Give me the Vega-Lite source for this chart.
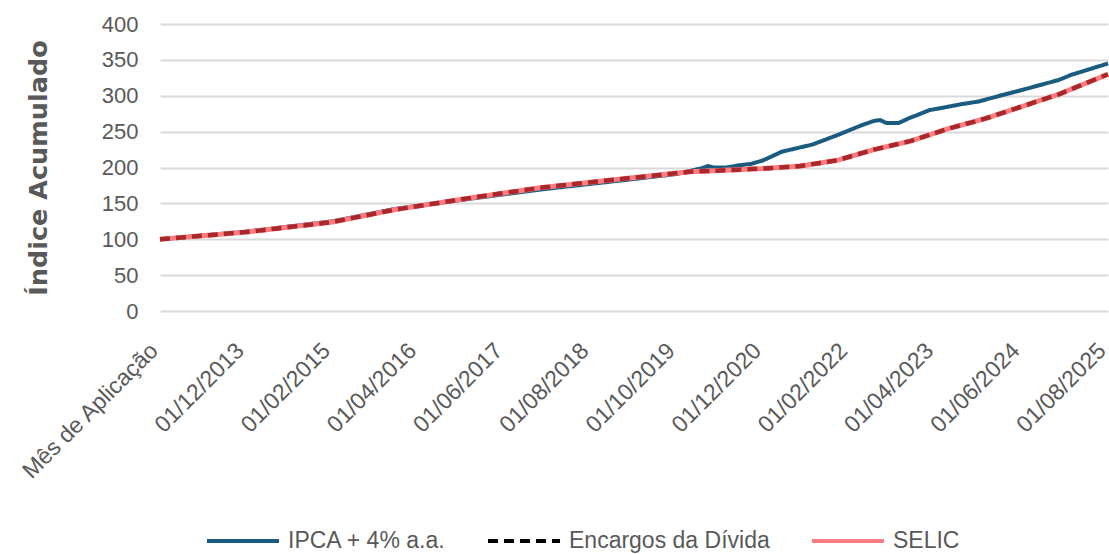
{
"$schema": "https://vega.github.io/schema/vega-lite/v6.json",
"width": 948,
"height": 287,
"autosize": "none",
"padding": {"left": 160, "top": 24, "right": 1, "bottom": 243},
"background": "white",
"config": {"font": "Liberation Sans", "view": {"stroke": null}},
"data": {"values": [
{"m":"Mês de Aplicação","i":100,"e":100,"s":100},
{"m":"01/11/2012","i":100.8,"e":100.7,"s":100.7},
{"m":"01/12/2012","i":101.5,"e":101.4,"s":101.4},
{"m":"01/01/2013","i":102.3,"e":102.1,"s":102.1},
{"m":"01/02/2013","i":103.0,"e":102.9,"s":102.9},
{"m":"01/03/2013","i":103.8,"e":103.6,"s":103.6},
{"m":"01/04/2013","i":104.5,"e":104.3,"s":104.3},
{"m":"01/05/2013","i":105.3,"e":105.0,"s":105.0},
{"m":"01/06/2013","i":106.0,"e":105.7,"s":105.7},
{"m":"01/07/2013","i":106.8,"e":106.4,"s":106.4},
{"m":"01/08/2013","i":107.5,"e":107.1,"s":107.1},
{"m":"01/09/2013","i":108.3,"e":107.9,"s":107.9},
{"m":"01/10/2013","i":109.0,"e":108.6,"s":108.6},
{"m":"01/11/2013","i":109.8,"e":109.3,"s":109.3},
{"m":"01/12/2013","i":110.5,"e":110.0,"s":110.0},
{"m":"01/01/2014","i":111.5,"e":111,"s":111},
{"m":"01/02/2014","i":112.6,"e":112,"s":112},
{"m":"01/03/2014","i":113.6,"e":113,"s":113},
{"m":"01/04/2014","i":114.6,"e":114,"s":114},
{"m":"01/05/2014","i":115.7,"e":115,"s":115},
{"m":"01/06/2014","i":116.7,"e":116,"s":116},
{"m":"01/07/2014","i":117.8,"e":117,"s":117},
{"m":"01/08/2014","i":118.8,"e":118,"s":118},
{"m":"01/09/2014","i":119.8,"e":119,"s":119},
{"m":"01/10/2014","i":120.9,"e":120,"s":120},
{"m":"01/11/2014","i":121.9,"e":121,"s":121},
{"m":"01/12/2014","i":122.9,"e":122,"s":122},
{"m":"01/01/2015","i":124.0,"e":123,"s":123},
{"m":"01/02/2015","i":125,"e":124,"s":124},
{"m":"01/03/2015","i":126.7,"e":125.7,"s":125.7},
{"m":"01/04/2015","i":128.4,"e":127.4,"s":127.4},
{"m":"01/05/2015","i":130.1,"e":129.1,"s":129.1},
{"m":"01/06/2015","i":131.8,"e":130.8,"s":130.8},
{"m":"01/07/2015","i":133.5,"e":132.5,"s":132.5},
{"m":"01/08/2015","i":135.2,"e":134.2,"s":134.2},
{"m":"01/09/2015","i":136.9,"e":135.9,"s":135.9},
{"m":"01/10/2015","i":138.6,"e":137.6,"s":137.6},
{"m":"01/11/2015","i":140.3,"e":139.3,"s":139.3},
{"m":"01/12/2015","i":142,"e":141,"s":141},
{"m":"01/01/2016","i":143.2,"e":142.3,"s":142.3},
{"m":"01/02/2016","i":144.3,"e":143.7,"s":143.7},
{"m":"01/03/2016","i":145.5,"e":145.0,"s":145.0},
{"m":"01/04/2016","i":146.7,"e":146.3,"s":146.3},
{"m":"01/05/2016","i":147.8,"e":147.7,"s":147.7},
{"m":"01/06/2016","i":149.0,"e":149.0,"s":149.0},
{"m":"01/07/2016","i":150.2,"e":150.3,"s":150.3},
{"m":"01/08/2016","i":151.3,"e":151.7,"s":151.7},
{"m":"01/09/2016","i":152.5,"e":153.0,"s":153.0},
{"m":"01/10/2016","i":153.7,"e":154.3,"s":154.3},
{"m":"01/11/2016","i":154.8,"e":155.7,"s":155.7},
{"m":"01/12/2016","i":156,"e":157,"s":157},
{"m":"01/01/2017","i":157.1,"e":158.3,"s":158.3},
{"m":"01/02/2017","i":158.3,"e":159.5,"s":159.5},
{"m":"01/03/2017","i":159.4,"e":160.8,"s":160.8},
{"m":"01/04/2017","i":160.5,"e":162.0,"s":162.0},
{"m":"01/05/2017","i":161.6,"e":163.3,"s":163.3},
{"m":"01/06/2017","i":162.8,"e":164.5,"s":164.5},
{"m":"01/07/2017","i":163.9,"e":165.8,"s":165.8},
{"m":"01/08/2017","i":165.0,"e":167.0,"s":167.0},
{"m":"01/09/2017","i":166.1,"e":168.3,"s":168.3},
{"m":"01/10/2017","i":167.3,"e":169.5,"s":169.5},
{"m":"01/11/2017","i":168.4,"e":170.8,"s":170.8},
{"m":"01/12/2017","i":169.5,"e":172,"s":172},
{"m":"01/01/2018","i":170.5,"e":172.9,"s":172.9},
{"m":"01/02/2018","i":171.4,"e":173.9,"s":173.9},
{"m":"01/03/2018","i":172.4,"e":174.8,"s":174.8},
{"m":"01/04/2018","i":173.4,"e":175.7,"s":175.7},
{"m":"01/05/2018","i":174.3,"e":176.6,"s":176.6},
{"m":"01/06/2018","i":175.3,"e":177.6,"s":177.6},
{"m":"01/07/2018","i":176.3,"e":178.5,"s":178.5},
{"m":"01/08/2018","i":177.2,"e":179.4,"s":179.4},
{"m":"01/09/2018","i":178.2,"e":180.4,"s":180.4},
{"m":"01/10/2018","i":179.1,"e":181.3,"s":181.3},
{"m":"01/11/2018","i":180.1,"e":182.2,"s":182.2},
{"m":"01/12/2018","i":181.1,"e":183.1,"s":183.1},
{"m":"01/01/2019","i":182.0,"e":184.1,"s":184.1},
{"m":"01/02/2019","i":183,"e":185,"s":185},
{"m":"01/03/2019","i":184,"e":185.9,"s":185.9},
{"m":"01/04/2019","i":185,"e":186.8,"s":186.8},
{"m":"01/05/2019","i":186,"e":187.7,"s":187.7},
{"m":"01/06/2019","i":187,"e":188.6,"s":188.6},
{"m":"01/07/2019","i":188,"e":189.5,"s":189.5},
{"m":"01/08/2019","i":189,"e":190.4,"s":190.4},
{"m":"01/09/2019","i":190,"e":191.3,"s":191.3},
{"m":"01/10/2019","i":191,"e":192.2,"s":192.2},
{"m":"01/11/2019","i":193,"e":193.1,"s":193.1},
{"m":"01/12/2019","i":195,"e":194,"s":194},
{"m":"01/01/2020","i":197,"e":194.4,"s":194.4},
{"m":"01/02/2020","i":199,"e":194.8,"s":194.8},
{"m":"01/03/2020","i":202,"e":195.1,"s":195.1},
{"m":"01/04/2020","i":200,"e":195.5,"s":195.5},
{"m":"01/05/2020","i":200,"e":195.9,"s":195.9},
{"m":"01/06/2020","i":200,"e":196.3,"s":196.3},
{"m":"01/07/2020","i":201.5,"e":196.6,"s":196.6},
{"m":"01/08/2020","i":203,"e":197.0,"s":197.0},
{"m":"01/09/2020","i":204,"e":197.4,"s":197.4},
{"m":"01/10/2020","i":205,"e":197.8,"s":197.8},
{"m":"01/11/2020","i":207.5,"e":198.1,"s":198.1},
{"m":"01/12/2020","i":210,"e":198.5,"s":198.5},
{"m":"01/01/2021","i":214,"e":199.1,"s":199.1},
{"m":"01/02/2021","i":218,"e":199.7,"s":199.7},
{"m":"01/03/2021","i":222,"e":200.3,"s":200.3},
{"m":"01/04/2021","i":224,"e":200.8,"s":200.8},
{"m":"01/05/2021","i":226,"e":201.4,"s":201.4},
{"m":"01/06/2021","i":228,"e":202,"s":202},
{"m":"01/07/2021","i":230,"e":203.3,"s":203.3},
{"m":"01/08/2021","i":232,"e":204.7,"s":204.7},
{"m":"01/09/2021","i":235.3,"e":206.0,"s":206.0},
{"m":"01/10/2021","i":238.5,"e":207.3,"s":207.3},
{"m":"01/11/2021","i":241.8,"e":208.7,"s":208.7},
{"m":"01/12/2021","i":245,"e":210,"s":210},
{"m":"01/01/2022","i":248.5,"e":212.5,"s":212.5},
{"m":"01/02/2022","i":252,"e":215,"s":215},
{"m":"01/03/2022","i":255.5,"e":217.5,"s":217.5},
{"m":"01/04/2022","i":259,"e":220,"s":220},
{"m":"01/05/2022","i":262,"e":222.5,"s":222.5},
{"m":"01/06/2022","i":265,"e":225,"s":225},
{"m":"01/07/2022","i":266,"e":227,"s":227},
{"m":"01/08/2022","i":262,"e":229,"s":229},
{"m":"01/09/2022","i":262,"e":231,"s":231},
{"m":"01/10/2022","i":262,"e":233,"s":233},
{"m":"01/11/2022","i":266,"e":235,"s":235},
{"m":"01/12/2022","i":270,"e":237,"s":237},
{"m":"01/01/2023","i":273,"e":239.8,"s":239.8},
{"m":"01/02/2023","i":276.5,"e":242.7,"s":242.7},
{"m":"01/03/2023","i":280,"e":245.5,"s":245.5},
{"m":"01/04/2023","i":281.5,"e":248.3,"s":248.3},
{"m":"01/05/2023","i":283,"e":251.2,"s":251.2},
{"m":"01/06/2023","i":284.7,"e":254,"s":254},
{"m":"01/07/2023","i":286.3,"e":256.3,"s":256.3},
{"m":"01/08/2023","i":288,"e":258.7,"s":258.7},
{"m":"01/09/2023","i":289.3,"e":261.0,"s":261.0},
{"m":"01/10/2023","i":290.7,"e":263.3,"s":263.3},
{"m":"01/11/2023","i":292,"e":265.7,"s":265.7},
{"m":"01/12/2023","i":294.3,"e":268,"s":268},
{"m":"01/01/2024","i":296.7,"e":270.8,"s":270.8},
{"m":"01/02/2024","i":299,"e":273.7,"s":273.7},
{"m":"01/03/2024","i":301.3,"e":276.5,"s":276.5},
{"m":"01/04/2024","i":303.5,"e":279.3,"s":279.3},
{"m":"01/05/2024","i":305.8,"e":282.2,"s":282.2},
{"m":"01/06/2024","i":308,"e":285,"s":285},
{"m":"01/07/2024","i":310.3,"e":287.8,"s":287.8},
{"m":"01/08/2024","i":312.7,"e":290.7,"s":290.7},
{"m":"01/09/2024","i":315,"e":293.5,"s":293.5},
{"m":"01/10/2024","i":317.3,"e":296.3,"s":296.3},
{"m":"01/11/2024","i":319.7,"e":299.2,"s":299.2},
{"m":"01/12/2024","i":322,"e":302,"s":302},
{"m":"01/01/2025","i":325.5,"e":305.5,"s":305.5},
{"m":"01/02/2025","i":329,"e":309,"s":309},
{"m":"01/03/2025","i":331.7,"e":312.5,"s":312.5},
{"m":"01/04/2025","i":334.3,"e":316,"s":316},
{"m":"01/05/2025","i":337,"e":319.5,"s":319.5},
{"m":"01/06/2025","i":339.7,"e":323,"s":323},
{"m":"01/07/2025","i":342.3,"e":326.5,"s":326.5},
{"m":"01/08/2025","i":345,"e":330,"s":330}
]},
"transform": [{"fold": ["i", "e", "s"], "as": ["k", "v"]}],
"encoding": {
  "x": {"field": "m", "type": "ordinal", "sort": null,
        "scale": {"type": "point", "padding": 0},
        "axis": {"values": ["Mês de Aplicação","01/12/2013","01/02/2015","01/04/2016","01/06/2017","01/08/2018","01/10/2019","01/12/2020","01/02/2022","01/04/2023","01/06/2024","01/08/2025"],
                 "title": null, "labelAngle": -45, "labelFontSize": 23, "labelColor": "#595959",
                 "ticks": false, "domain": false, "grid": false, "labelPadding": 28, "labelOffset": -14, "labelLimit": 300}},
  "y": {"field": "v", "type": "quantitative",
        "scale": {"domain": [0, 400], "nice": false},
        "axis": {"values": [0,50,100,150,200,250,300,350,400], "title": "Índice Acumulado",
                 "titleFont": "DejaVu Sans", "titleFontSize": 25.5, "titleFontWeight": "bold", "titleColor": "#595959",
                 "titlePadding": 50, "labelFontSize": 22, "labelColor": "#595959", "labelPadding": 22,
                 "ticks": false, "domain": false, "gridColor": "#d9d9d9", "gridWidth": 2}}
},
"layer": [
  {"transform": [{"filter": "datum.k == 'i'"}],
   "mark": {"type": "line", "strokeWidth": 4},
   "encoding": {
     "color": {"field": "k", "type": "nominal", "scale": {"domain": ["i","e","s"], "range": ["#1a5c80","#000000","#ff7c80"]},
       "legend": {"title": null, "orient": "none", "legendX": 45, "legendY": 479, "direction": "horizontal", "padding": 0,
                  "labelExpr": "datum.label == 'i' ? 'IPCA + 4% a.a.' : datum.label == 'e' ? 'Encargos da Dívida' : 'SELIC'",
                  "symbolType": "stroke", "symbolSize": 5184, "symbolStrokeWidth": 4, "labelFontSize": 23, "labelColor": "#595959",
                  "labelOffset": 7, "columnPadding": 34, "labelLimit": 400}},
     "strokeDash": {"field": "k", "type": "nominal", "scale": {"domain": ["i","e","s"], "range": [[1,0],[10,6],[1,0]]},
       "legend": {"title": null, "orient": "none", "legendX": 45, "legendY": 479, "direction": "horizontal", "padding": 0,
                  "labelExpr": "datum.label == 'i' ? 'IPCA + 4% a.a.' : datum.label == 'e' ? 'Encargos da Dívida' : 'SELIC'",
                  "symbolType": "stroke", "symbolSize": 5184, "symbolStrokeWidth": 4, "labelFontSize": 23, "labelColor": "#595959",
                  "labelOffset": 7, "columnPadding": 34, "labelLimit": 400}}
   }},
  {"transform": [{"filter": "datum.k == 's'"}],
   "mark": {"type": "line", "strokeWidth": 5},
   "encoding": {
     "color": {"field": "k", "type": "nominal"},
     "strokeDash": {"field": "k", "type": "nominal"}
   }},
  {"transform": [{"filter": "datum.k == 'e'"}],
   "mark": {"type": "line", "strokeWidth": 4.5, "color": "#a8282c", "strokeDash": [10, 6]},
   "encoding": {}}
]
}
